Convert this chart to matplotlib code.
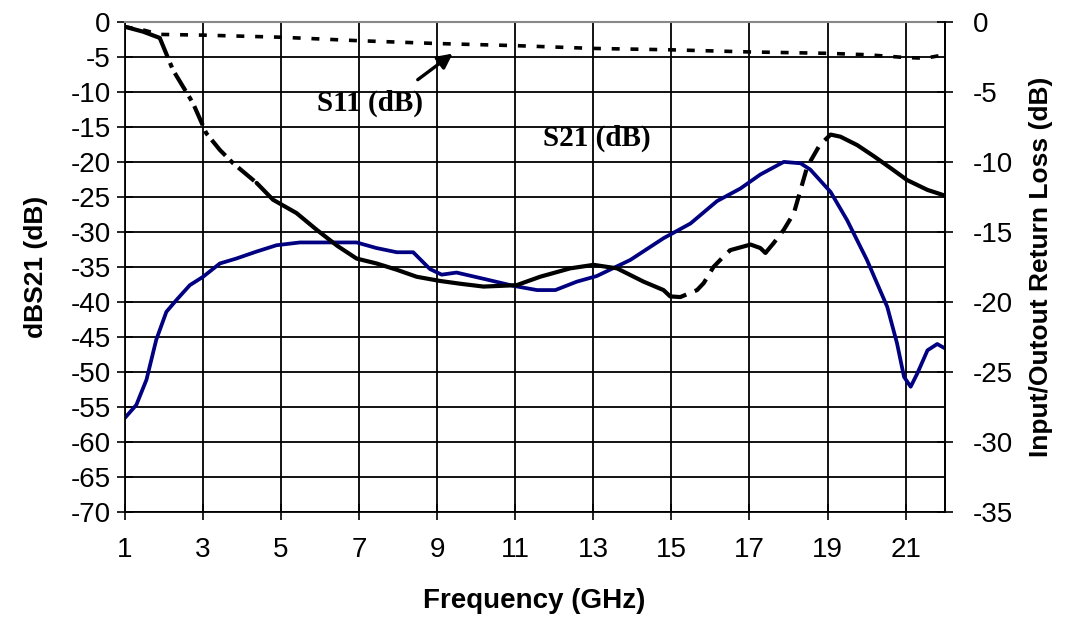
import matplotlib
matplotlib.use("Agg")
import matplotlib.pyplot as plt
import numpy as np

# ---------------- data ----------------
s21_x = [1.0, 1.47, 1.9, 2.24, 2.75, 3.09, 3.44, 3.78, 4.38, 4.80, 5.40, 5.92, 6.45, 6.94,
         7.45, 7.97, 8.48, 9.08, 9.6, 10.19, 11.04, 11.64, 12.41, 13.01, 13.61, 14.29, 14.80,
         14.97, 15.23, 15.66, 15.83, 16.08, 16.34, 16.51, 17.03, 17.28, 17.41, 17.62, 17.88,
         18.14, 18.31, 18.48, 18.80, 19.08, 19.33, 19.76, 20.19, 20.62, 21.04, 21.56, 22.0]
s21_y = [-0.7, -1.4, -2.3, -6.9, -11.6, -15.9, -18.3, -20.2, -23.0, -25.4, -27.3, -29.7, -32.0, -33.8,
         -34.5, -35.4, -36.4, -37.0, -37.4, -37.8, -37.6, -36.4, -35.2, -34.7, -35.2, -37.1, -38.3,
         -39.2, -39.3, -38.3, -37.3, -35.0, -33.5, -32.6, -31.8, -32.3, -33.0, -31.6, -29.7,
         -27.3, -24.0, -20.7, -17.6, -16.1, -16.4, -17.6, -19.2, -20.9, -22.6, -24.0, -24.8]

s11_x = [1.0, 1.5, 1.9, 3.0, 5.0, 7.0, 9.0, 11.0, 13.0, 15.0, 17.0, 19.0, 20.0, 21.0, 21.5, 22.0]
s11_y = [-0.7, -1.2, -1.8, -1.9, -2.2, -2.7, -3.1, -3.4, -3.8, -4.0, -4.3, -4.5, -4.7, -5.1, -5.2, -4.7]

rl_x = [1.0, 1.30, 1.56, 1.81, 2.07, 2.33, 2.67, 3.01, 3.44, 3.86, 4.38, 4.89, 5.49, 6.2, 6.94,
        7.45, 7.97, 8.39, 8.82, 9.12, 9.50, 10.2, 10.96, 11.56, 12.03, 12.58, 13.09, 13.95,
        14.80, 15.49, 16.17, 16.77, 17.28, 17.88, 18.31, 18.56, 19.08, 19.50, 20.01, 20.53,
        20.78, 20.96, 21.13, 21.30, 21.56, 21.81, 22.0]
rl_y = [-56.6, -54.7, -51.1, -45.4, -41.4, -39.7, -37.6, -36.4, -34.5, -33.8, -32.8, -31.9, -31.5, -31.5, -31.5,
        -32.3, -32.9, -32.9, -35.3, -36.1, -35.8, -36.7, -37.7, -38.3, -38.3, -37.1, -36.3, -34.0,
        -30.9, -28.8, -25.6, -23.8, -21.8, -20.0, -20.2, -21.1, -24.3, -28.3, -34.0, -40.7,
        -45.9, -50.7, -52.1, -50.2, -46.9, -46.0, -46.6]

x_ticks = [1, 3, 5, 7, 9, 11, 13, 15, 17, 19, 21]
left_ticks = list(range(0, -75, -5))
right_ticks = list(range(0, -40, -5))

# ---------------- figure ----------------
plt.rcParams['font.family'] = ['Liberation Sans', 'DejaVu Sans']
plt.rcParams['axes.unicode_minus'] = False
fig = plt.figure(figsize=(10.65, 6.23), dpi=100)
ax = fig.add_axes([0.117, 0.178, 0.770, 0.787])

ax.set_xlim(1, 22)
ax.set_ylim(-70, 0)
ax.set_xticks(x_ticks)
ax.set_yticks(left_ticks)
ax.grid(True, color='black', linewidth=1.3)
ax.set_axisbelow(True)

for s in ['left', 'bottom', 'right']:
    ax.spines[s].set_color('black')
    ax.spines[s].set_linewidth(1.3)
ax.spines['top'].set_color('#888888')
ax.spines['top'].set_linewidth(1.5)

ax.tick_params(axis='both', direction='inout', length=12, width=1.2, labelsize=20, colors='black')
ax.tick_params(axis='x', pad=12)
ax.tick_params(axis='y', pad=4)

# blue curve
ax.plot(rl_x, rl_y, color='#000080', linewidth=2.7, solid_capstyle='round')

# S11 dotted curve
ax.plot(s11_x, s11_y, color='black', linewidth=2.6, dashes=(2.2, 3.0))

# S21 black curve, drawn in segments with different styles
sx = np.array(s21_x)
sy = np.array(s21_y)
segments = [(1.0, 1.9, 'solid'), (1.9, 4.38, 'dashdot'), (4.38, 14.97, 'solid'),
            (14.97, 16.51, 'dashed'), (16.51, 17.41, 'solid'), (17.41, 19.08, 'dashed'),
            (19.08, 22.0, 'solid')]
for x0, x1, st in segments:
    m = (sx >= x0) & (sx <= x1)
    if st == 'solid':
        ax.plot(sx[m], sy[m], color='black', linewidth=3.0, solid_capstyle='round')
    elif st == 'dashdot':
        ax.plot(sx[m], sy[m], color='black', linewidth=3.0, dashes=(5, 1.5, 1.2, 1.5))
    else:
        ax.plot(sx[m], sy[m], color='black', linewidth=3.0, dashes=(4, 2.2))

# annotations
ax.annotate('', xy=(9.46, -4.3), xytext=(8.45, -8.5),
            arrowprops=dict(arrowstyle='-|>', color='black', lw=2.4, mutation_scale=22))
ax.text(7.28, -11.6, 'S11 (dB)', family=['Liberation Serif', 'DejaVu Serif'],
        fontweight='bold', fontsize=21, ha='center', va='center')
ax.text(13.1, -16.6, 'S21 (dB)', family=['Liberation Serif', 'DejaVu Serif'],
        fontweight='bold', fontsize=21, ha='center', va='center')

ax.set_xlabel('Frequency (GHz)', fontsize=20, fontweight='bold', labelpad=18)
ax.set_ylabel('dBS21 (dB)', fontsize=19, fontweight='bold', labelpad=16)

# right axis
ax2 = ax.twinx()
ax2.set_ylim(-35, 0)
ax2.set_yticks(right_ticks)
ax2.tick_params(axis='y', direction='inout', length=12, width=1.2, labelsize=20, pad=14)
for s in ax2.spines.values():
    s.set_visible(False)
ax2.spines['right'].set_visible(True)
ax2.spines['right'].set_linewidth(1.3)
ax2.set_ylabel('Input/Outout Return Loss (dB)', fontsize=19, fontweight='bold', labelpad=12)

fig.savefig('out.png', dpi=100)
